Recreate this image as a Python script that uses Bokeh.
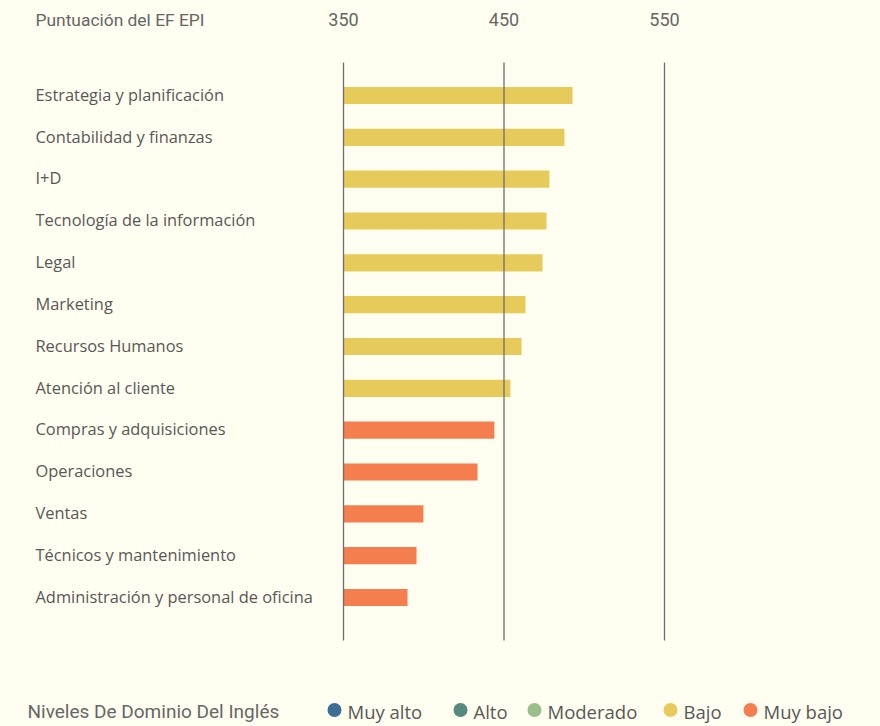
from bokeh.plotting import figure
from bokeh.models import Range1d
from bokeh.core.properties import value
from bokeh.embed import file_html
from bokeh.resources import INLINE

# ---------------- data ----------------
categories = [
    "Estrategia y planificación",
    "Contabilidad y finanzas",
    "I+D",
    "Tecnología de la información",
    "Legal",
    "Marketing",
    "Recursos Humanos",
    "Atención al cliente",
    "Compras y adquisiciones",
    "Operaciones",
    "Ventas",
    "Técnicos y mantenimiento",
    "Administración y personal de oficina",
]
scores = [492.7, 487.7, 478.3, 476.5, 474.0, 463.4, 460.9, 454.0,
          444.0, 433.5, 399.8, 395.5, 389.9]
levels = ["Bajo"] * 8 + ["Muy bajo"] * 5
tick_values = [350, 450, 550]
tick_labels = ["350", "450", "550"]
axis_title = "Puntuación del EF EPI"
legend_title = "Niveles De Dominio Del Inglés"
legend_labels = ["Muy alto", "Alto", "Moderado", "Bajo", "Muy bajo"]
legend_colors = ["#3c6e96", "#568a7e", "#9cbe8a", "#e6cb5b", "#f47e4e"]

# ---------------- layout helpers ----------------
W, H = 880, 726
PX_PER_UNIT = (664 - 343) / 200.0
ROW_PX = 41.83
ROW0_PX = 95.0


def sx(px):
    return 350 + (px - 343) / PX_PER_UNIT


def sy(py):
    return (py - ROW0_PX) / ROW_PX


color_of = dict(zip(legend_labels, legend_colors))
rows = list(range(len(categories)))
bar_colors = [color_of[l] for l in levels]

BG = "#fffef0"
TXT = "#585858"
TXT2 = "#666666"
LABEL_FONT = "Open Sans"
NARROW_FONT = "Roboto"

p = figure(width=W, height=H, output_backend="svg", toolbar_location=None,
           x_range=Range1d(sx(0), sx(W)),
           y_range=Range1d(sy(H), sy(0)),
           x_axis_location=None, y_axis_location=None,
           min_border=0, min_border_left=0, min_border_right=0,
           min_border_top=0, min_border_bottom=0)
p.background_fill_color = BG
p.border_fill_color = BG
p.outline_line_color = None
p.grid.visible = False

# bars
p.hbar(y=rows, left=350, right=scores, height=0.41, color=bar_colors,
       line_color=None)

# grid lines (drawn over bars)
p.segment(x0=tick_values, x1=tick_values, y0=sy(62), y1=sy(640),
          line_color="#6e6e6e", line_width=1.3)

# category labels
p.text(x=sx(35), y=[r - 0.03 for r in rows], text=categories,
       text_align="left", text_baseline="middle",
       text_font=value(LABEL_FONT), text_font_size="16.4px", text_color=TXT)

# top header
p.text(x=[sx(35)], y=[sy(19)], text=[axis_title], text_align="left",
       text_baseline="middle", text_font=value(NARROW_FONT),
       text_font_size="17.4px", text_color=TXT2)
p.text(x=tick_values, y=sy(19), text=tick_labels, text_align="center",
       text_baseline="middle", text_font=value(NARROW_FONT),
       text_font_size="18px", text_color=TXT2)

# legend
legend_dot_px = [334, 460, 534, 670, 750]
p.text(x=[sx(27)], y=[sy(711)], text=[legend_title], text_align="left",
       text_baseline="middle", text_font=value(NARROW_FONT),
       text_font_size="19px", text_color=TXT2)
p.scatter(x=[sx(v) for v in legend_dot_px], y=sy(709.5), size=14,
          color=legend_colors, line_color=None)
p.text(x=[sx(v + 13) for v in legend_dot_px], y=sy(711), text=legend_labels,
       text_align="left", text_baseline="middle", text_font=value(LABEL_FONT),
       text_font_size="18.5px", text_color=TXT)

open("out.html", "w").write(file_html(p, INLINE))
